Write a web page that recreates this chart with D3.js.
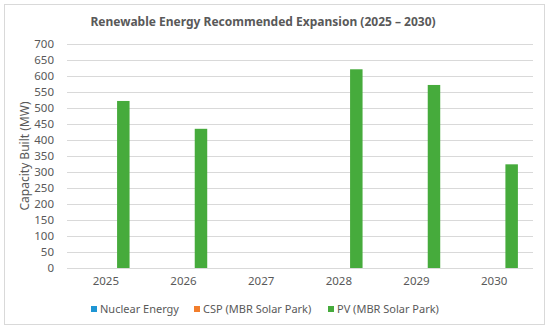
<!DOCTYPE html>
<html>
<head>
<meta charset="utf-8">
<script src="https://cdn.jsdelivr.net/npm/d3@7"></script>
<style>
  body { margin: 0; background: #fff; }
  text { font-family: "Noto Sans", sans-serif; fill: #595959; }
</style>
</head>
<body>
<svg id="chart"></svg>
<script>
const size = {w: 550, h: 331};
const margin = {t: 44, r: 17, b: 63, l: 67};

const years = ['2025', '2026', '2027', '2028', '2029', '2030'];
const series = ['Nuclear Energy', 'CSP (MBR Solar Park)', 'PV (MBR Solar Park)'];
const colors = ['#1f96d4', '#f27e2c', '#46ab3c'];
const nuclear = [0, 0, 0, 0, 0, 0];
const csp = [0, 0, 0, 0, 0, 0];
const pv = [522, 435, 0, 621, 572, 324];
const yTicks = d3.range(0, 701, 50);

const svg = d3.select('svg#chart')
    .attr('width', size.w)
    .attr('height', size.h);

// chart frame
svg.append('rect')
    .attr('x', 4.5).attr('y', 4.5)
    .attr('width', 540).attr('height', 320)
    .attr('fill', '#fff')
    .attr('stroke', '#d9d9d9');

const innerW = size.w - margin.l - margin.r;
const innerH = size.h - margin.t - margin.b;

const g = svg.append('g')
    .attr('transform', `translate(${margin.l}, ${margin.t})`);

const x0 = d3.scaleBand()
    .domain(years)
    .range([0, innerW])
    .paddingInner(0.389)
    .paddingOuter(0.1945);

const x1 = d3.scaleBand()
    .domain(series)
    .range([0, x0.bandwidth()])
    .paddingInner(0.2857);

const y = d3.scaleLinear()
    .domain([0, 700])
    .range([innerH, 0]);

// gridlines
g.append('g')
    .selectAll('line')
    .data(yTicks)
    .join('line')
    .attr('x1', 0)
    .attr('x2', innerW)
    .attr('y1', d => Math.round(y(d)) + 0.5)
    .attr('y2', d => Math.round(y(d)) + 0.5)
    .attr('stroke', '#d9d9d9');

// y axis labels
const yAxis = g.append('g')
    .call(d3.axisLeft(y).tickValues(yTicks).tickSize(0).tickPadding(13));
yAxis.select('.domain').remove();
yAxis.selectAll('text')
    .style('font-size', '11.5px')
    .attr('fill', '#595959');

// x axis labels
const xAxis = g.append('g')
    .attr('transform', `translate(0, ${innerH})`)
    .call(d3.axisBottom(x0).tickSize(0).tickPadding(9));
xAxis.select('.domain').remove();
xAxis.selectAll('text')
    .style('font-size', '11.5px')
    .attr('fill', '#595959');

// bars
const table = years.map((yr, i) => ({
    year: yr,
    values: [nuclear[i], csp[i], pv[i]]
}));

g.append('g')
    .selectAll('g')
    .data(table)
    .join('g')
    .attr('transform', d => `translate(${x0(d.year)}, 0)`)
    .selectAll('rect')
    .data(d => d.values.map((v, j) => ({key: series[j], value: v, color: colors[j]})))
    .join('rect')
    .attr('x', d => x1(d.key))
    .attr('y', d => y(d.value))
    .attr('width', x1.bandwidth())
    .attr('height', d => innerH - y(d.value))
    .attr('fill', d => d.color);

// title
svg.append('text')
    .attr('x', 263)
    .attr('y', 26)
    .attr('text-anchor', 'middle')
    .style('font-size', '12px')
    .style('font-weight', 'bold')
    .text('Renewable Energy Recommended Expansion (2025 \u2013 2030)');

// y axis title
svg.append('text')
    .attr('transform', `translate(29, 156) rotate(-90)`)
    .attr('text-anchor', 'middle')
    .style('font-size', '12px')
    .text('Capacity Built (MW)');

// legend
const legendX = [91, 194, 328];
const legend = svg.append('g')
    .selectAll('g')
    .data(series)
    .join('g')
    .attr('transform', (d, i) => `translate(${legendX[i]}, 309)`);

legend.append('rect')
    .attr('x', 0).attr('y', -3)
    .attr('width', 6).attr('height', 6)
    .attr('fill', (d, i) => colors[i]);

legend.append('text')
    .attr('x', 9)
    .attr('y', 4)
    .style('font-size', '11px')
    .text(d => d);
</script>
</body>
</html>
